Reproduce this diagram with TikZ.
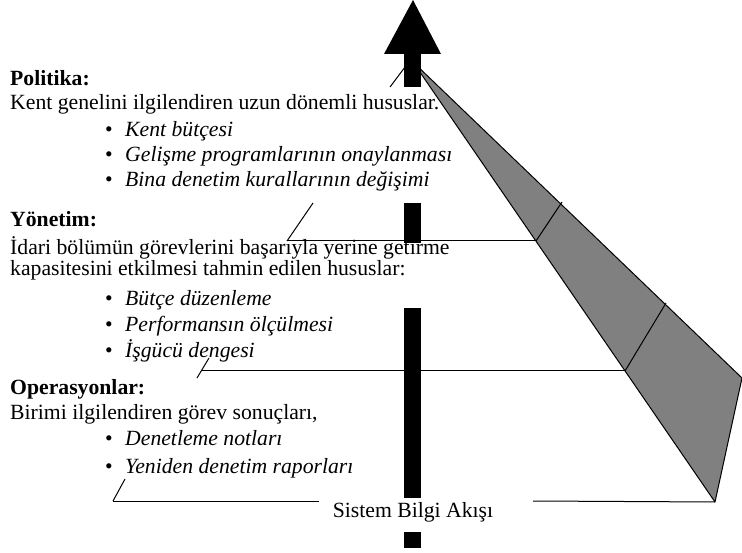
\documentclass[tikz,border=0pt]{standalone}
\usepackage{fontspec}
\setmainfont{Liberation Serif}
\begin{document}
\begin{tikzpicture}[x=1pt,y=-1pt,
  txt/.style={anchor=base west, inner sep=0pt, font=\fontsize{21.7}{26}\selectfont},
  hdr/.style={anchor=base west, inner sep=0pt, font=\fontsize{21.7}{26}\selectfont\bfseries},
  itm/.style={anchor=base west, inner sep=0pt, font=\fontsize{21.7}{26}\selectfont\itshape},
  dot/.style={anchor=base west, inner sep=0pt, font=\fontsize{21.7}{26}\selectfont},
  ln/.style={line width=1pt, black},
  bar/.style={fill=black},
  wedge/.style={fill=black!50, draw=black, line width=1pt, line join=round}]
\useasboundingbox (0,0) rectangle (742,553);
% pyramid wedge
\coordinate (apex) at (413,62);
\coordinate (rv) at (742,378);
\coordinate (tip) at (715,502);
\coordinate (c2) at (536,241);
\coordinate (d2) at (562,202);
\coordinate (c3) at (625,371);
\coordinate (d3) at (666,303);
\draw[wedge] (apex) -- (rv) -- (tip) -- cycle;
\draw[ln] (c2) -- (d2);
\draw[ln] (c3) -- (d3);
% level lines
\coordinate (s1a) at (390,87);
\coordinate (s1b) at (405,67);
\draw[ln] (s1a) -- (s1b);
\coordinate (l2) at (287,241);
\coordinate (s2b) at (313,203);
\draw[ln] (l2) -- (c2);
\draw[ln] (l2) -- (s2b);
\coordinate (l3) at (202,371);
\coordinate (s3a) at (197,378);
\coordinate (s3b) at (209,358);
\draw[ln] (l3) -- (c3);
\draw[ln] (s3a) -- (s3b);
\coordinate (l4) at (113,501);
\coordinate (l4e) at (319,501);
\coordinate (r4) at (533,501);
\coordinate (s4b) at (125,479);
\draw[ln] (l4) -- (l4e);
\draw[ln] (r4) -- (tip);
\draw[ln] (l4) -- (s4b);
% arrow head and shaft pieces
\fill[bar] (413,0) -- (441,54) -- (384,54) -- cycle;
\fill[bar] (404,53) rectangle (421,87);
\fill[bar] (404,203) rectangle (421,243);
\fill[bar] (404,308) rectangle (421,498);
\fill[bar] (404,532) rectangle (421,548);
% texts
\node[hdr] (pol) at (10,86) {Politika:};
\node[txt] (pol1) at (10,110) {Kent genelini ilgilendiren uzun dönemli hususlar.};
\node[dot] (pb1) at (105,137) {•};
\node[itm] (pi1) at (125,137) {Kent bütçesi};
\node[dot] (pb2) at (105,162) {•};
\node[itm] (pi2) at (125,162) {Gelişme programlarının onaylanması};
\node[dot] (pb3) at (105,187) {•};
\node[itm] (pi3) at (125,187) {Bina denetim kurallarının değişimi};
\node[hdr] (yon) at (10,227) {Yönetim:};
\node[txt] (yon1) at (10,255) {İdari bölümün görevlerini başarıyla yerine getirme};
\node[txt] (yon2) at (10,276) {kapasitesini etkilmesi tahmin edilen hususlar:};
\node[dot] (yb1) at (105,306) {•};
\node[itm] (yi1) at (125,306) {Bütçe düzenleme};
\node[dot] (yb2) at (105,332) {•};
\node[itm] (yi2) at (125,332) {Performansın ölçülmesi};
\node[dot] (yb3) at (105,358) {•};
\node[itm] (yi3) at (125,358) {İşgücü dengesi};
\node[hdr] (ops) at (10,395) {Operasyonlar:};
\node[txt] (ops1) at (10,419) {Birimi ilgilendiren görev sonuçları,};
\node[dot] (ob1) at (105,446) {•};
\node[itm] (oi1) at (125,446) {Denetleme notları};
\node[dot] (ob2) at (105,473) {•};
\node[itm] (oi2) at (125,473) {Yeniden denetim raporları};
\node[anchor=base, inner sep=0pt, font=\fontsize{21.7}{26}\selectfont] (sba) at (413,517) {Sistem Bilgi Akışı};
\end{tikzpicture}
\end{document}
